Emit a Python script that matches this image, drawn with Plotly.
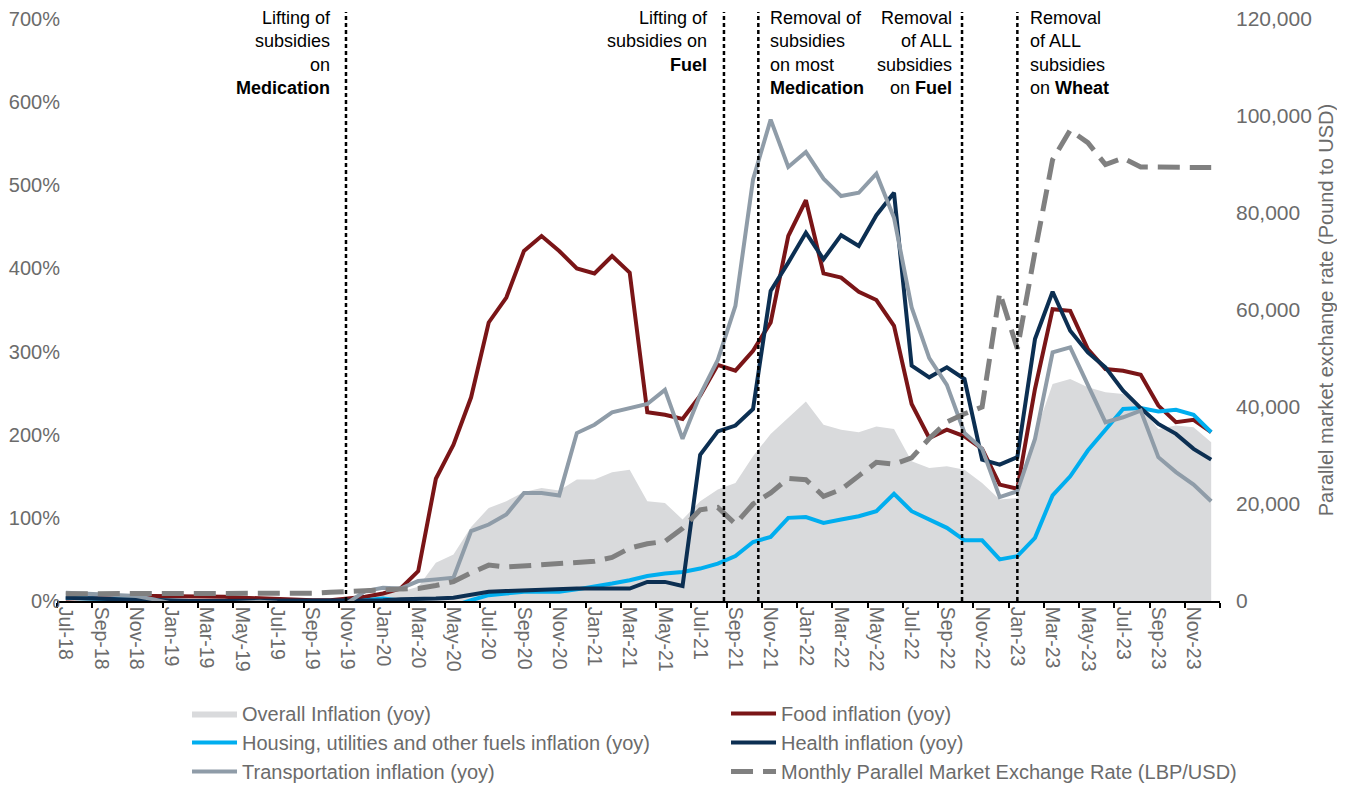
import plotly.graph_objects as go

months = ["Jul-18", "Aug-18", "Sep-18", "Oct-18", "Nov-18", "Dec-18",
          "Jan-19", "Feb-19", "Mar-19", "Apr-19", "May-19", "Jun-19",
          "Jul-19", "Aug-19", "Sep-19", "Oct-19", "Nov-19", "Dec-19",
          "Jan-20", "Feb-20", "Mar-20", "Apr-20", "May-20", "Jun-20",
          "Jul-20", "Aug-20", "Sep-20", "Oct-20", "Nov-20", "Dec-20",
          "Jan-21", "Feb-21", "Mar-21", "Apr-21", "May-21", "Jun-21",
          "Jul-21", "Aug-21", "Sep-21", "Oct-21", "Nov-21", "Dec-21",
          "Jan-22", "Feb-22", "Mar-22", "Apr-22", "May-22", "Jun-22",
          "Jul-22", "Aug-22", "Sep-22", "Oct-22", "Nov-22", "Dec-22",
          "Jan-23", "Feb-23", "Mar-23", "Apr-23", "May-23", "Jun-23",
          "Jul-23", "Aug-23", "Sep-23", "Oct-23", "Nov-23", "Dec-23"]

overall = [6, 6, 5, 5, 4, 4, 3, 3, 2, 2, 2, 1, 1, 1, 1, 1, 2, 7,
           10, 11, 17, 46, 56, 89, 112, 120, 131, 136, 133, 146,
           146, 155, 158, 120, 118, 98, 120, 134, 142, 174, 201, 221,
           240, 212, 206, 203, 210, 207, 168, 160, 162, 158, 142, 122,
           124, 200, 261, 267, 257, 251, 249, 232, 207, 211, 209, 191]

food = [3, 4, 5, 6, 6, 6, 6, 6, 5, 5, 4, 3, 2, 1, 1, 1, 3, 5,
        9, 15, 36, 147, 188, 245, 335, 365, 421, 439, 421, 400,
        394, 415, 395, 227, 224, 219, 247, 284, 277, 301, 335, 439,
        482, 394, 389, 372, 362, 331, 237, 196, 206, 198, 183, 140,
        135, 255, 351, 349, 303, 279, 277, 272, 235, 215, 218, 203]

housing = [4, 3, 3, 2, 2, 1, -3, -4, -3, -2, -1, 0, -1, -2, -4, -5, -3, 1,
           3, 1, -2, -5, -6, 1, 7, 9, 11, 11, 11, 14,
           17, 21, 25, 30, 33, 35, 39, 45, 54, 71, 77, 100,
           101, 94, 98, 102, 108, 129, 108, 98, 88, 73, 73, 50,
           54, 76, 127, 150, 181, 206, 231, 232, 228, 230, 224, 203]

health = [4, 3, 3, 2, 2, 1, 0, 0, 0, 0, 0, 0, 0, 0, 0, 0, 0, 1,
          1, 2, 2, 3, 4, 8, 11, 12, 13, 14, 15, 15,
          15, 15, 15, 23, 23, 18, 176, 204, 211, 231, 373, 407,
          443, 411, 440, 427, 464, 491, 283, 269, 281, 267, 170, 164,
          173, 315, 372, 325, 299, 281, 253, 232, 213, 201, 183, 170]

transport = [10, 9, 8, 7, 6, 2, -3, -5, -5, -3, -2, -1, -2, -3, -3, -3, -2, 12,
             16, 15, 24, 26, 28, 84, 92, 104, 130, 130, 127, 202,
             212, 227, 232, 237, 254, 195, 248, 290, 355, 507, 579, 522,
             540, 508, 487, 491, 514, 461, 353, 292, 260, 202, 183, 125,
             132, 195, 299, 305, 260, 215, 221, 229, 173, 155, 140, 120]

exchange = [1500, 1500, 1500, 1500, 1500, 1500, 1500, 1500, 1500, 1500, 1500, 1500,
            1500, 1500, 1600, 1800, 2000, 2100, 2200, 2400, 2600, 3200, 4000, 5800,
            7400, 7000, 7200, 7500, 7600, 7900, 8200, 9000, 10900, 11800, 12300, 15000,
            18800, 19300, 15900, 20000, 22300, 25300, 25000, 21600, 23000, 25800, 28600, 28200,
            29500, 33500, 36900, 38600, 40000, 63600, 52000, 72000, 91000, 97100, 94500, 90000,
            91300, 89500, 89400, 89400, 89400, 89400]

# subsidy-removal events (position in months since Jul-18) and their labels
event_x = [15.9, 37.35, 39.3, 50.86, 54.0]
event_text = ["Lifting of<br>subsidies<br>on<br><b>Medication</b>",
              "Lifting of<br>subsidies on<br><b>Fuel</b>",
              "Removal of<br>subsidies<br>on most<br><b>Medication</b>",
              "Removal<br>of ALL<br>subsidies<br>on <b>Fuel</b>",
              "Removal<br>of ALL<br>subsidies<br>on <b>Wheat</b>"]

x = list(range(len(months)))

TICK_GREY = "#6b6b6b"
FONT = "Liberation Sans, Arial, sans-serif"

fig = go.Figure()
fig.add_trace(go.Scatter(x=x, y=overall, name="Overall Inflation (yoy)", mode="lines",
                         fill="tozeroy", fillcolor="#d9dadc",
                         line=dict(width=0, color="#d9dadc")))
fig.add_trace(go.Scatter(x=x, y=food, name="Food inflation (yoy)", mode="lines",
                         line=dict(color="#7a1517", width=4)))
fig.add_trace(go.Scatter(x=x, y=housing, name="Housing, utilities and other fuels inflation (yoy)",
                         mode="lines", line=dict(color="#00aeef", width=4)))
fig.add_trace(go.Scatter(x=x, y=health, name="Health inflation (yoy)", mode="lines",
                         line=dict(color="#0c2f52", width=4)))
fig.add_trace(go.Scatter(x=x, y=transport, name="Transportation inflation (yoy)", mode="lines",
                         line=dict(color="#8f9ca8", width=4)))
fig.add_trace(go.Scatter(x=x, y=exchange, name="Monthly Parallel Market Exchange Rate (LBP/USD)",
                         mode="lines", yaxis="y2",
                         line=dict(color="#808080", width=5, dash="22px,10px")))

shift = [(-13, "right"), (-14, "right"), (10, "left"), (-8, "right"), (11, "left")]
for ex, txt, (xs, anc) in zip(event_x, event_text, shift):
    fig.add_shape(type="line", xref="x", yref="paper", x0=ex, x1=ex, y0=0, y1=1.012,
                  line=dict(color="black", width=2.5, dash="4px,3px"))
    fig.add_annotation(x=ex, xref="x", y=1, yref="paper", yanchor="top", yshift=13,
                       xanchor=anc, xshift=xs, align=anc, text=txt, showarrow=False,
                       font=dict(family=FONT, size=18, color="black"))

fig.update_layout(
    width=1329, height=776,
    margin=dict(l=49, r=117, t=11, b=183, autoexpand=False),
    plot_bgcolor="white", paper_bgcolor="white",
    font=dict(family=FONT, color=TICK_GREY),
    showlegend=True,
    xaxis=dict(range=[-0.5, 65.5], tickmode="array", tickvals=x[::2], ticktext=months[::2],
               tickangle=90, ticks="", showline=True, linecolor="black", linewidth=1.5,
               showgrid=False, zeroline=False, automargin=False, ticklabeloverflow="allow",
               tickfont=dict(size=19.5, color=TICK_GREY),
               minor=dict(tickmode="array", tickvals=[i - 0.5 for i in range(0, 67, 2)],
                          ticks="outside", ticklen=5, tickcolor="black", tickwidth=1.5,
                          showgrid=False)),
    yaxis=dict(range=[0, 700], dtick=100, ticksuffix="%", showgrid=False, zeroline=False,
               showline=False, automargin=False, ticklabeloverflow="allow",
               ticklabelstandoff=-4, tickfont=dict(size=20, color=TICK_GREY)),
    yaxis2=dict(overlaying="y", side="right", range=[0, 120000], dtick=20000, tickformat=",",
                showgrid=False, zeroline=False, showline=False, ticklabelstandoff=15,
                automargin=False, ticklabeloverflow="allow",
                tickfont=dict(size=21, color=TICK_GREY),
                title=dict(text="Parallel market exchange rate (Pound to USD)", standoff=8,
                           font=dict(size=20, color=TICK_GREY))),
    legend=dict(orientation="h", xref="container", yref="container", x=0.1347, y=0.116,
                xanchor="left", yanchor="top", entrywidth=479, itemwidth=45,
                font=dict(size=20, color=TICK_GREY), bgcolor="rgba(0,0,0,0)"),
)

fig.write_html("out.html")
